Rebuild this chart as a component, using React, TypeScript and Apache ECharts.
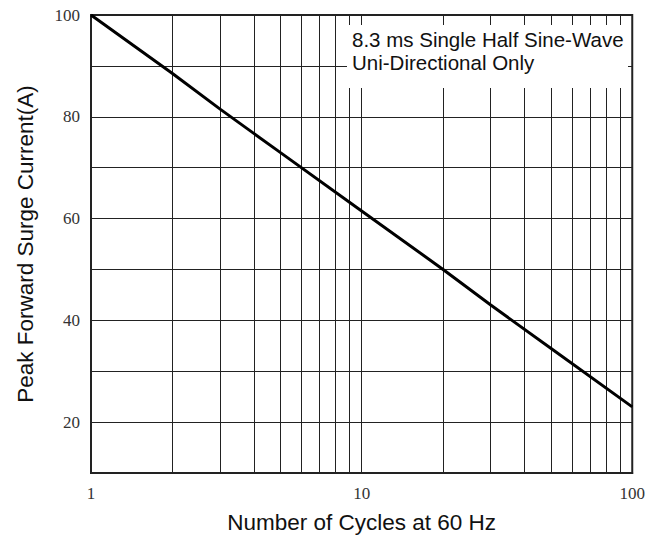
import React, { useEffect, useRef } from "react";
import * as echarts from "echarts";

const cycles = [1, 2, 3, 5, 10, 20, 30, 50, 100];
const surgeCurrent = [100, 88.5, 81.5, 73, 61.5, 50, 43, 34.5, 23];
const minorCycleLines = [2, 3, 4, 5, 6, 7, 8, 9, 20, 30, 40, 50, 60, 70, 80, 90];
const noteLines = ["8.3 ms Single Half Sine-Wave", "Uni-Directional Only"];
const xName = "Number of Cycles at 60 Hz";
const yName = "Peak Forward Surge Current(A)";

const SANS = "'Liberation Sans', Arial, sans-serif";
const SERIF = "'Liberation Serif', 'Times New Roman', serif";

export default function App() {
  const ref = useRef<HTMLDivElement>(null);
  useEffect(() => {
    if (!ref.current) return;
    const chart = echarts.init(ref.current, undefined, { renderer: "svg" });
    chart.setOption({
      animation: false,
      backgroundColor: "#fff",
      grid: {
        left: 91,
        right: 15,
        top: 15,
        bottom: 62,
        containLabel: false,
        show: true,
        borderColor: "#222",
        borderWidth: 2,
        backgroundColor: "transparent",
      },
      xAxis: {
        type: "log",
        logBase: 10,
        min: 1,
        max: 100,
        name: xName,
        nameLocation: "middle",
        nameGap: 38,
        nameTextStyle: { fontFamily: SANS, fontSize: 22.5, color: "#111" },
        axisLine: { show: true, lineStyle: { color: "#222", width: 2 } },
        axisTick: { show: false },
        axisLabel: { fontFamily: SERIF, fontSize: 17, color: "#333", margin: 12 },
        splitLine: { show: true, lineStyle: { color: "#222", width: 1 } },
      },
      yAxis: {
        type: "value",
        min: 10,
        max: 100,
        interval: 10,
        name: yName,
        nameLocation: "middle",
        nameGap: 54,
        nameTextStyle: { fontFamily: SANS, fontSize: 22.5, color: "#111" },
        axisLine: { show: true, lineStyle: { color: "#222", width: 2 } },
        axisTick: { show: false },
        axisLabel: {
          fontFamily: SERIF,
          fontSize: 17,
          color: "#333",
          margin: 11,
          formatter: (v: number) => (v % 20 === 0 ? String(v) : ""),
        },
        splitLine: { show: true, lineStyle: { color: "#222", width: 1 } },
      },
      series: [
        {
          type: "line",
          data: [],
          z: 1,
          silent: true,
          markLine: {
            z: 1,
            silent: true,
            symbol: ["none", "none"],
            label: { show: false },
            lineStyle: { color: "#222", width: 1, type: "solid" },
            emphasis: { disabled: true },
            data: minorCycleLines.map((v) => ({ xAxis: v })),
          },
        },
        {
          type: "line",
          z: 3,
          data: cycles.map((c, i) => [c, surgeCurrent[i]]),
          symbol: "none",
          lineStyle: { color: "#000", width: 3 },
          silent: true,
        },
      ],
      graphic: [
        {
          type: "rect",
          z: 100,
          shape: { x: 347, y: 25, width: 281, height: 63 },
          style: { fill: "#fff" },
          silent: true,
        },
        {
          type: "text",
          z: 101,
          x: 352,
          y: 28,
          style: {
            text: noteLines.join("\n"),
            font: `20.5px ${SANS}`,
            lineHeight: 23,
            fill: "#111",
          },
          silent: true,
        },
      ],
    });
    return () => chart.dispose();
  }, []);
  return (
    <div
      ref={ref}
      style={{ position: "fixed", left: 0, top: 0, width: 648, height: 539 }}
    />
  );
}
